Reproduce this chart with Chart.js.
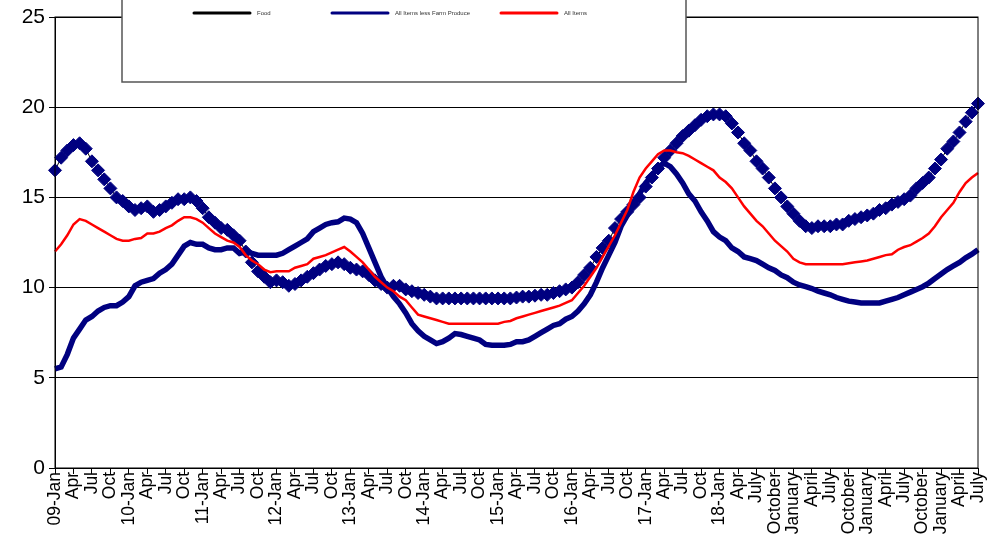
<!DOCTYPE html>
<html>
<head>
<meta charset="utf-8">
<script src="https://cdn.jsdelivr.net/npm/chart.js@4"></script>
<style>
  html, body { margin: 0; padding: 0; background: #fff; }
  #wrap { width: 987px; height: 541px; }
</style>
</head>
<body>
<div id="wrap"><canvas id="chart"></canvas></div>
<script>
// quarterly tick labels, one every 3rd month
var quarterTicks = ['09-Jan', 'Apr', 'Jul', 'Oct', '10-Jan', 'Apr', 'Jul', 'Oct',
    '11-Jan', 'Apr', 'Jul', 'Oct', '12-Jan', 'Apr', 'Jul', 'Oct',
    '13-Jan', 'Apr', 'Jul', 'Oct', '14-Jan', 'Apr', 'Jul', 'Oct',
    '15-Jan', 'Apr', 'Jul', 'Oct', '16-Jan', 'Apr', 'Jul', 'Oct',
    '17-Jan', 'Apr', 'Jul', 'Oct', '18-Jan', 'Apr', 'July', 'October',
    'January', 'April', 'July', 'October', 'January', 'April', 'July', 'October',
    'January', 'April', 'July'];

// monthly values, Jan 2009 .. Jul 2021
var food = [16.5, 17.2, 17.6, 17.9, 18.0, 17.7, 17.0, 16.5, 16.0, 15.5, 15.0, 14.8,
    14.5, 14.3, 14.4, 14.5, 14.2, 14.3, 14.5, 14.7, 14.9, 14.9, 15.0, 14.8,
    14.4, 13.9, 13.6, 13.3, 13.2, 12.9, 12.6, 12.0, 11.4, 10.9, 10.6, 10.3,
    10.4, 10.3, 10.1, 10.2, 10.4, 10.6, 10.8, 11.0, 11.2, 11.3, 11.4, 11.3,
    11.1, 11.0, 10.9, 10.7, 10.4, 10.2, 10.0, 10.1, 10.1, 9.9, 9.8, 9.7,
    9.6, 9.5, 9.4, 9.4, 9.4, 9.4, 9.4, 9.4, 9.4, 9.4, 9.4, 9.4,
    9.4, 9.4, 9.4, 9.45, 9.5, 9.5, 9.55, 9.6, 9.6, 9.7, 9.8, 9.9,
    10.0, 10.3, 10.7, 11.1, 11.7, 12.2, 12.6, 13.3, 13.8, 14.2, 14.6, 15.0,
    15.6, 16.1, 16.6, 17.2, 17.6, 18.0, 18.4, 18.7, 19.0, 19.3, 19.5, 19.6,
    19.6, 19.5, 19.1, 18.6, 18.0, 17.6, 17.0, 16.6, 16.1, 15.5, 15.0, 14.5,
    14.1, 13.7, 13.4, 13.3, 13.4, 13.4, 13.4, 13.5, 13.5, 13.7, 13.8, 13.9,
    14.0, 14.1, 14.3, 14.4, 14.6, 14.75, 14.9, 15.1, 15.5, 15.8, 16.1, 16.6,
    17.1, 17.7, 18.1, 18.6, 19.2, 19.7, 20.2];

var lessFarm = [5.5, 5.6, 6.3, 7.2, 7.7, 8.2, 8.4, 8.7, 8.9, 9.0, 9.0, 9.2,
    9.5, 10.1, 10.3, 10.4, 10.5, 10.8, 11.0, 11.3, 11.8, 12.3, 12.5, 12.4,
    12.4, 12.2, 12.1, 12.1, 12.2, 12.2, 11.9, 12.0, 11.9, 11.8, 11.8, 11.8,
    11.8, 11.9, 12.1, 12.3, 12.5, 12.7, 13.1, 13.3, 13.5, 13.6, 13.65, 13.85,
    13.8, 13.6, 13.0, 12.2, 11.4, 10.6, 10.0, 9.5, 9.1, 8.6, 8.0, 7.6,
    7.3, 7.1, 6.9, 7.0, 7.2, 7.45, 7.4, 7.3, 7.2, 7.1, 6.85, 6.8,
    6.8, 6.8, 6.85, 7.0, 7.0, 7.1, 7.3, 7.5, 7.7, 7.9, 8.0, 8.25,
    8.4, 8.7, 9.1, 9.6, 10.3, 11.1, 11.8, 12.5, 13.4, 14.0, 14.6, 15.2,
    15.8, 16.2, 16.7, 16.9, 16.7, 16.3, 15.8, 15.2, 14.8, 14.2, 13.7, 13.1,
    12.8, 12.6, 12.2, 12.0, 11.7, 11.6, 11.5, 11.3, 11.1, 10.95, 10.7, 10.55,
    10.3, 10.15, 10.05, 9.95, 9.8, 9.7, 9.6, 9.45, 9.35, 9.25, 9.2, 9.15,
    9.15, 9.15, 9.15, 9.25, 9.35, 9.45, 9.6, 9.75, 9.9, 10.05, 10.25, 10.5,
    10.75, 11.0, 11.2, 11.4, 11.65, 11.85, 12.1];

var allItems = [12.0, 12.4, 12.9, 13.5, 13.8, 13.7, 13.5, 13.3, 13.1, 12.9, 12.7, 12.6,
    12.6, 12.7, 12.75, 13.0, 13.0, 13.1, 13.3, 13.45, 13.7, 13.9, 13.9, 13.8,
    13.6, 13.3, 13.0, 12.8, 12.6, 12.5, 12.25, 11.8, 11.5, 11.3, 11.0, 10.85,
    10.9, 10.9, 10.9, 11.1, 11.2, 11.3, 11.6, 11.7, 11.8, 11.95, 12.1, 12.25,
    12.0, 11.7, 11.4, 11.0, 10.6, 10.3, 10.0, 9.8, 9.5, 9.3, 8.9, 8.5,
    8.4, 8.3, 8.2, 8.1, 8.0, 8.0, 8.0, 8.0, 8.0, 8.0, 8.0, 8.0,
    8.0, 8.1, 8.15, 8.3, 8.4, 8.5, 8.6, 8.7, 8.8, 8.9, 9.0, 9.15,
    9.3, 9.7, 10.1, 10.6, 11.1, 11.7, 12.3, 12.9, 13.6, 14.3, 15.3, 16.1,
    16.6, 17.0, 17.4, 17.6, 17.6, 17.5, 17.45, 17.3, 17.1, 16.9, 16.7, 16.5,
    16.1, 15.85, 15.5, 15.0, 14.5, 14.1, 13.7, 13.4, 13.0, 12.6, 12.3, 12.0,
    11.6, 11.4, 11.3, 11.3, 11.3, 11.3, 11.3, 11.3, 11.3, 11.35, 11.4, 11.45,
    11.5, 11.6, 11.7, 11.8, 11.85, 12.1, 12.25, 12.35, 12.55, 12.75, 13.0, 13.4,
    13.9, 14.3, 14.7, 15.3, 15.8, 16.1, 16.35];

var yTicks = [0, 5, 10, 15, 20, 25];

var labels = [];
for (let i = 0; i < food.length; i++) {
    labels.push(i % 3 === 0 ? quarterTicks[i / 3] : '');
}

var fontFamily = '"Liberation Sans", Arial, sans-serif';

// Excel-style legend box floating over the top of the plot, plus plot frame
var legendBox = {
    id: 'legendBox',
    afterDraw: function (chart) {
        var ctx = chart.ctx;
        var a = chart.chartArea;
        ctx.save();
        ctx.strokeStyle = '#000';
        ctx.lineWidth = 1;
        ctx.strokeRect(a.left, a.top, a.right - a.left, a.bottom - a.top);

        ctx.fillStyle = '#fff';
        ctx.fillRect(122, -1, 564, 83);
        ctx.strokeStyle = '#555';
        ctx.lineWidth = 1.5;
        ctx.strokeRect(122, -1, 564, 83);

        var itemX = [194, 332, 501];
        ctx.font = '6px ' + fontFamily;
        ctx.textBaseline = 'middle';
        chart.data.datasets.forEach(function (ds, i) {
            ctx.strokeStyle = ds.legendColor;
            ctx.lineWidth = 3;
            ctx.lineCap = 'round';
            ctx.beginPath();
            ctx.moveTo(itemX[i], 13);
            ctx.lineTo(itemX[i] + 56, 13);
            ctx.stroke();
            ctx.fillStyle = '#333';
            ctx.fillText(ds.label, itemX[i] + 63, 13);
        });
        ctx.restore();
    }
};

var canvas = document.getElementById('chart');
var grafico = new Chart(canvas, {
    type: 'line',
    data: {
        labels: labels,
        datasets: [{
            label: 'Food',
            data: food,
            legendColor: '#000',
            borderColor: '#000',
            borderWidth: 1,
            pointStyle: 'rectRot',
            pointRadius: 6.5,
            pointBackgroundColor: '#000080',
            pointBorderColor: '#000080',
            pointBorderWidth: 1,
            tension: 0,
            order: 3
        }, {
            label: 'All Items less Farm Produce',
            data: lessFarm,
            legendColor: '#000080',
            borderColor: '#000080',
            borderWidth: 5.5,
            pointRadius: 0,
            tension: 0,
            order: 2
        }, {
            label: 'All Items',
            data: allItems,
            legendColor: '#ff0000',
            borderColor: '#ff0000',
            borderWidth: 2.5,
            pointRadius: 0,
            tension: 0,
            order: 1
        }]
    },
    options: {
        responsive: true,
        maintainAspectRatio: false,
        animation: false,
        layout: { padding: { top: 17, right: 9, left: 0, bottom: 0 } },
        plugins: {
            legend: { display: false },
            tooltip: { enabled: false },
            title: { display: false }
        },
        scales: {
            x: {
                type: 'category',
                offset: false,
                afterBuildTicks: function (scale) {
                    scale.ticks = scale.ticks.filter(function (t) { return t.value % 3 === 0; });
                },
                afterFit: function (scale) {
                    scale.height = 73;
                    scale.paddingLeft = 0;
                    scale.paddingRight = 0;
                },
                ticks: {
                    autoSkip: false,
                    minRotation: 90,
                    maxRotation: 90,
                    padding: -2,
                    color: '#000',
                    font: { family: fontFamily, size: 17.5 }
                },
                grid: {
                    drawOnChartArea: false,
                    color: '#000',
                    tickLength: 6
                },
                border: { display: true, color: '#000', width: 1 }
            },
            y: {
                min: yTicks[0],
                max: yTicks[yTicks.length - 1],
                afterFit: function (scale) { scale.width = 55; },
                ticks: {
                    stepSize: yTicks[1] - yTicks[0],
                    padding: 4,
                    color: '#000',
                    font: { family: fontFamily, size: 21 }
                },
                grid: {
                    color: '#000',
                    lineWidth: 1,
                    tickLength: 6
                },
                border: { display: true, color: '#000', width: 1 }
            }
        }
    },
    plugins: [legendBox]
});
</script>
</body>
</html>
